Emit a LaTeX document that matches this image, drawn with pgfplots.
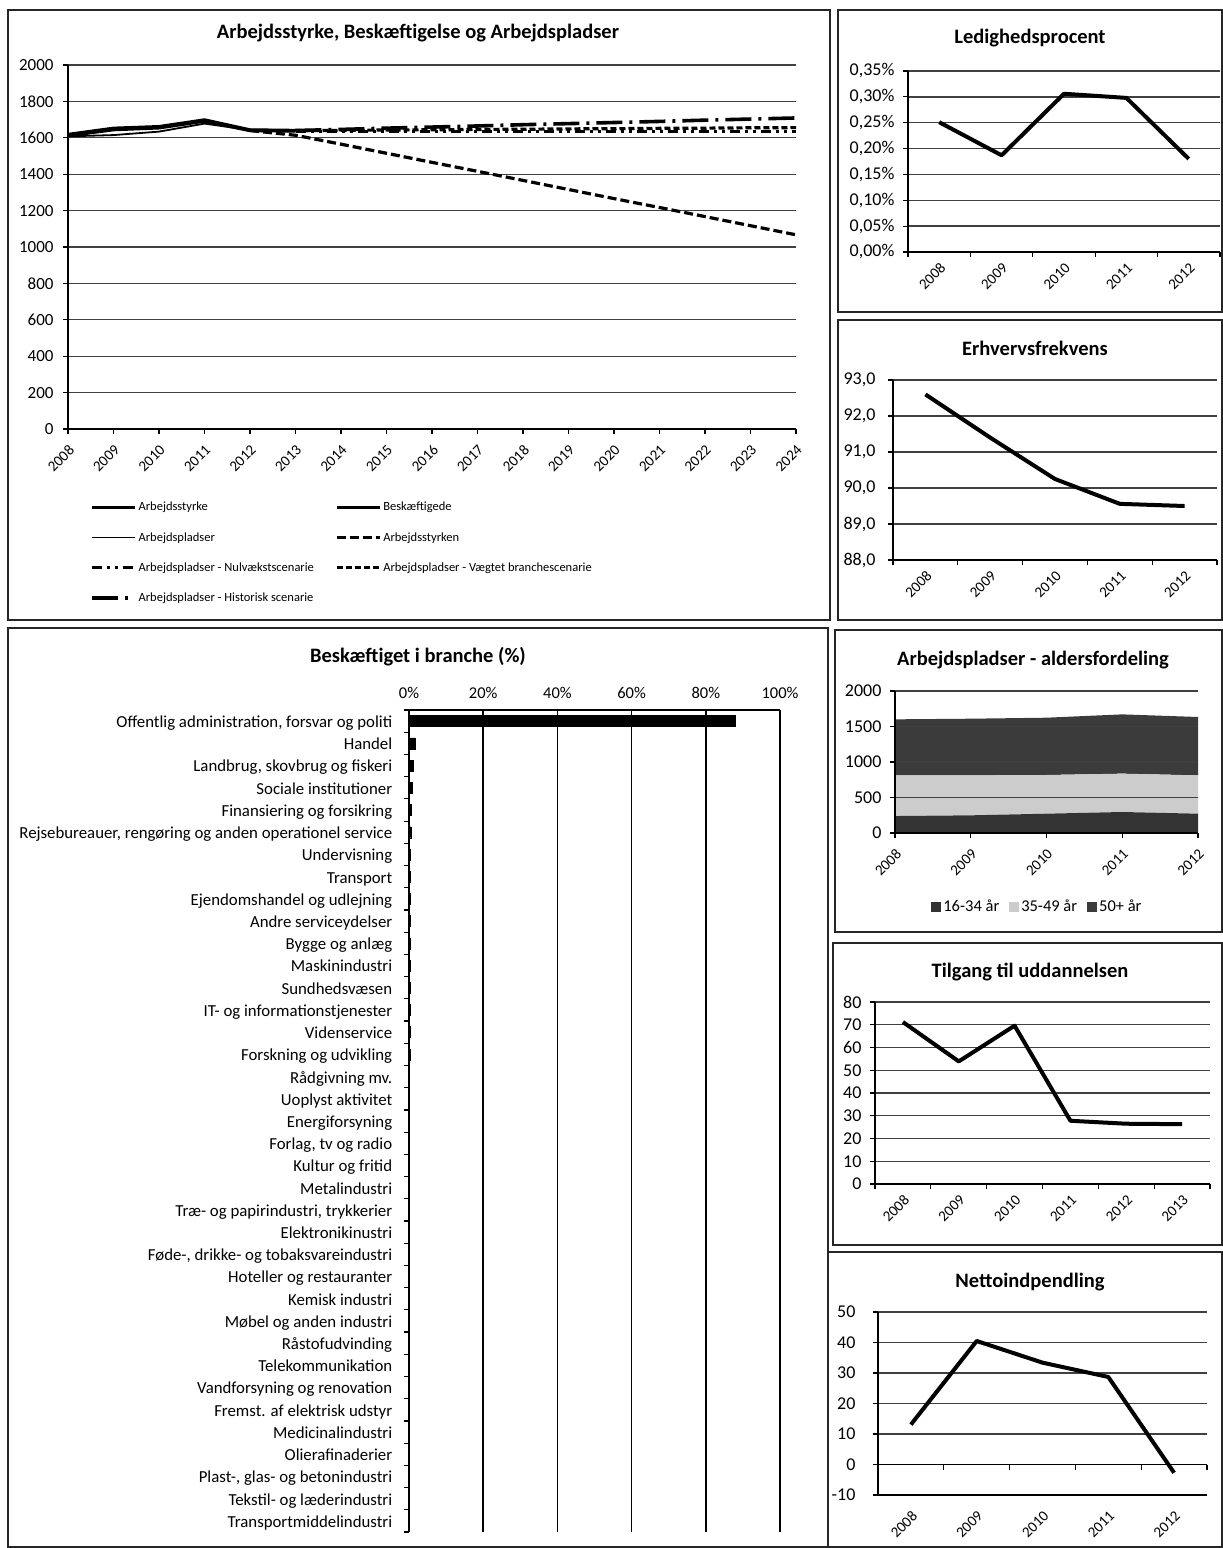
\documentclass[border=0pt]{standalone}
\usepackage{fontspec}
\setmainfont{Carlito}
\usepackage{pgfplots}
\pgfplotsset{compat=1.18}

\newcommand\fs[1]{\fontsize{#1}{#1}\selectfont}
\definecolor{gridc}{gray}{0.25}
\definecolor{darkA}{gray}{0.2}
\definecolor{darkB}{gray}{0.23}
\definecolor{lightA}{gray}{0.8}

\pgfplotsset{
  excel/.style={
    scale only axis,
    axis lines*=left,
    ymajorgrids,
    grid style={gridc, line width=1.3pt},
    axis line style={black, line width=1.4pt},
    tick style={black, line width=1.2pt},
    tick align=outside,
    major tick length=5pt,
    /pgf/number format/assume math mode=true,
    /pgf/number format/1000 sep={},
    yticklabel style={font=\fs{18}, xshift=-5pt},
    xticklabel style={yshift=-5pt, rotate=45, anchor=north east, font=\fs{15}},
    clip=false,
  },
  cat5/.style={
    xmin=-0.5, xmax=4.5,
    xtick={-0.5,0.5,1.5,2.5,3.5,4.5}, xticklabels={},
    extra x ticks={0,1,2,3,4},
    extra x tick labels={2008,2009,2010,2011,2012},
    extra x tick style={major tick length=0pt, tick style={draw=none}},
  },
  cat6/.style={
    xmin=-0.5, xmax=5.5,
    xtick={-0.5,0.5,1.5,2.5,3.5,4.5,5.5}, xticklabels={},
    extra x ticks={0,1,2,3,4,5},
    extra x tick labels={2008,2009,2010,2011,2012,2013},
    extra x tick style={major tick length=0pt, tick style={draw=none}},
  },
  thk/.style={black, line width=4pt, line join=round},
}

\begin{document}
\begin{tikzpicture}
\path[use as bounding box, fill=white] (0pt,0pt) rectangle (1223pt,-1548pt);

% panel frames
\begin{scope}[line width=1.6pt, black!85]
\draw (8pt,-10pt) rectangle (830pt,-620pt);
\draw (838pt,-10pt) rectangle (1222pt,-312pt);
\draw (838pt,-320pt) rectangle (1222pt,-620pt);
\draw (8pt,-628pt) rectangle (828pt,-1547pt);
\draw (835pt,-630pt) rectangle (1222pt,-932pt);
\draw (833pt,-943pt) rectangle (1222pt,-1245pt);
\draw (828pt,-1252pt) rectangle (1222pt,-1547pt);
\end{scope}

% titles
\begin{scope}[every node/.style={font=\bfseries\fs{20.5}}]
\node at (418pt,-33pt) {Arbejdsstyrke, Beskæftigelse og Arbejdspladser};
\node at (1030pt,-38pt) {Ledighedsprocent};
\node at (1035pt,-348pt) {Erhvervsfrekvens};
\node at (418pt,-657pt) {Beskæftiget i branche (\%)};
\node at (1033pt,-660pt) {Arbejdspladser - aldersfordeling};
\node at (1030pt,-972pt) {Tilgang til uddannelsen};
\node at (1030pt,-1282pt) {Nettoindpendling};
\end{scope}

% ---------- main chart
\begin{axis}[excel, at={(68pt,-429pt)}, anchor=south west, width=728pt, height=364pt,
  xmin=2008, xmax=2024, xtick={2008,...,2024},
  ymin=0, ymax=2000, ytick={0,200,...,2000},
  yticklabel style={font=\fs{17}, xshift=-1pt},
  legend columns=2,
  legend cell align=left,
  legend style={at={(0.03,-0.195)}, anchor=north west, draw=none, fill=none,
    font=\fs{12.5}, row sep=16pt, inner sep=0pt,
    /tikz/every even column/.append style={column sep=19pt}},
  legend image code/.code={\draw[#1] (0pt,0pt) -- (43pt,0pt);},
]
\addplot[black, line width=3.4pt] coordinates {(2008,1618) (2009,1652) (2010,1661) (2011,1698) (2012,1643) (2013,1640)};
\addlegendentry{Arbejdsstyrke}
\addplot[black, line width=3.4pt] coordinates {(2008,1612) (2009,1645) (2010,1655) (2011,1692) (2012,1640) (2013,1638)};
\addlegendentry{Beskæftigede}
\addplot[black, line width=1.8pt] coordinates {(2008,1608) (2009,1615) (2010,1634) (2011,1678) (2012,1643) (2013,1640)};
\addlegendentry{Arbejdspladser}
\addplot[black, line width=3.2pt, dash pattern=on 9pt off 4pt] coordinates {(2012,1640) (2013,1614) (2014,1565) (2015,1515) (2016,1465) (2017,1416) (2018,1366) (2019,1316) (2020,1266) (2021,1217) (2022,1167) (2023,1117) (2024,1067)};
\addlegendentry{Arbejdsstyrken}
\addplot[black, line width=2.8pt, dash pattern=on 10pt off 5pt on 3pt off 5pt on 3pt off 5pt] coordinates {(2013,1636) (2014,1636) (2015,1636) (2016,1636) (2017,1636) (2018,1636) (2019,1636) (2020,1636) (2021,1636) (2022,1636) (2023,1636) (2024,1636)};
\addlegendentry{Arbejdspladser - Nulvækstscenarie}
\addplot[black, line width=3.2pt, dash pattern=on 6pt off 3pt] coordinates {(2013,1640) (2014,1641) (2015,1643) (2016,1644) (2017,1646) (2018,1647) (2019,1649) (2020,1650) (2021,1652) (2022,1653) (2023,1655) (2024,1656)};
\addlegendentry{Arbejdspladser - Vægtet branchescenarie}
\addplot[black, line width=3.6pt, dash pattern=on 26pt off 7pt on 3pt off 7pt] coordinates {(2013,1640) (2014,1646) (2015,1653) (2016,1659) (2017,1665) (2018,1672) (2019,1678) (2020,1684) (2021,1690) (2022,1697) (2023,1703) (2024,1709)};
\addlegendentry{Arbejdspladser - Historisk scenarie}
\end{axis}

% ---------- Ledighedsprocent
\begin{axis}[excel, cat5, at={(908pt,-252pt)}, anchor=south west, width=312pt, height=181pt,
  ymin=0, ymax=0.35, ytick={0,0.05,0.1,0.15,0.2,0.25,0.3,0.35},
  yticklabels={{0,00\%},{0,05\%},{0,10\%},{0,15\%},{0,20\%},{0,25\%},{0,30\%},{0,35\%}},
]
\addplot[thk] coordinates {(0,0.251) (1,0.187) (2,0.306) (3,0.298) (4,0.180)};
\end{axis}

% ---------- Erhvervsfrekvens
\begin{axis}[excel, cat5, at={(893pt,-560pt)}, anchor=south west, width=324pt, height=180pt,
  ymin=88, ymax=93, ytick={88,...,93},
  yticklabels={{88,0},{89,0},{90,0},{91,0},{92,0},{93,0}},
  yticklabel style={xshift=-4pt},
]
\addplot[thk] coordinates {(0,92.6) (1,91.4) (2,90.25) (3,89.56) (4,89.5)};
\end{axis}

% ---------- Arbejdspladser - aldersfordeling
\begin{axis}[excel, at={(895pt,-833pt)}, anchor=south west, width=303pt, height=142pt,
  xmin=2008, xmax=2012, xtick={2008,...,2012},
  ymin=0, ymax=2000, ytick={0,500,...,2000},
  stack plots=y, area style,
  legend columns=3,
  legend style={at={(0.47,-0.52)}, anchor=center, draw=none, fill=none, font=\fs{16.5},
    /tikz/every even column/.append style={column sep=8pt}},
  legend image code/.code={\fill[#1] (0pt,-5pt) rectangle (10pt,5pt);},
]
\addplot[fill=darkA, draw=none] coordinates {(2008,239) (2009,249) (2010,272) (2011,296) (2012,272)} \closedcycle;
\addlegendentry{16-34 år}
\addplot[fill=lightA, draw=none] coordinates {(2008,573) (2009,563) (2010,545) (2011,540) (2012,540)} \closedcycle;
\addlegendentry{35-49 år}
\addplot[fill=darkB, draw=none] coordinates {(2008,789) (2009,798) (2010,807) (2011,835) (2012,822)} \closedcycle;
\addlegendentry{50+ år}
\end{axis}

% ---------- Tilgang til uddannelsen
\begin{axis}[excel, cat6, at={(875pt,-1184pt)}, anchor=south west, width=335pt, height=182pt,
  ymin=0, ymax=80, ytick={0,10,...,80},
]
\addplot[thk] coordinates {(0,71.2) (1,53.9) (2,69.6) (3,27.8) (4,26.5) (5,26.3)};
\end{axis}

% ---------- Nettoindpendling
\begin{axis}[excel, at={(878pt,-1495pt)}, anchor=south west, width=329pt, height=183pt,
  xmin=-0.5, xmax=4.5, xtick={0,...,4}, xticklabels={2008,2009,2010,2011,2012},
  x tick style={draw=none},
  ymin=-10, ymax=50, ytick={-10,0,...,50},
  yticklabel style={xshift=-9pt},
]
\draw[black, line width=1.4pt] (axis cs:-0.5,0) -- (axis cs:4.5,0);
\pgfplotsinvokeforeach{-0.5,0.5,1.5,2.5,3.5,4.5}{\draw[black, line width=1.2pt] (axis cs:#1,0) -- ++(0pt,-5pt);}
\addplot[thk] coordinates {(0,13.1) (1,40.5) (2,33.4) (3,28.7) (4,-2.7)};
\end{axis}

% ---------- Beskæftiget i branche
\begin{axis}[scale only axis, at={(409pt,-1532pt)}, anchor=south west, width=371pt, height=822pt,
  xbar, bar width=11pt,
  xmin=0, xmax=100, xtick={0,20,...,100},
  xticklabel={\pgfmathprintnumber{\tick}\%},
  /pgf/number format/assume math mode=true,
  ymin=-0.5, ymax=36.5, y dir=reverse,
  ytick={0,...,36},
  typeset ticklabels with strut,
  yticklabels={{Offentlig administration, forsvar og politi},Handel,{Landbrug, skovbrug og fiskeri},Sociale institutioner,Finansiering og forsikring,{Rejsebureauer, rengøring og anden operationel service},Undervisning,Transport,Ejendomshandel og udlejning,Andre serviceydelser,Bygge og anlæg,Maskinindustri,Sundhedsvæsen,IT- og informationstjenester,Videnservice,Forskning og udvikling,Rådgivning mv.,Uoplyst aktivitet,Energiforsyning,{Forlag, tv og radio},Kultur og fritid,Metalindustri,{Træ- og papirindustri, trykkerier},Elektronikinustri,{Føde-, drikke- og tobaksvareindustri},Hoteller og restauranter,Kemisk industri,Møbel og anden industri,Råstofudvinding,Telekommunikation,Vandforsyning og renovation,Fremst. af elektrisk udstyr,Medicinalindustri,Olierafinaderier,{Plast-, glas- og betonindustri},Tekstil- og læderindustri,Transportmiddelindustri},
  axis x line*=top, axis y line*=left,
  xmajorgrids, grid style={black, line width=1.4pt},
  axis line style={black, line width=1.4pt},
  tick style={black, line width=1.2pt},
  y tick style={draw=none},
  x tick style={draw=none},
  xticklabel style={font=\fs{16.5}, yshift=8pt},
  yticklabel style={font=\fs{16.8}, xshift=-9pt, yshift=-3pt},
  clip=false,
]
\pgfplotsinvokeforeach{-0.5,0.5,...,36.5}{\draw[black, line width=1.2pt] (axis cs:0,#1) -- ++(-5pt,0pt);}
\addplot[fill=black, draw=black] coordinates {(88,0) (1.6,1) (1.1,2) (0.9,3) (0.6,4) (0.6,5) (0.4,6) (0.4,7) (0.3,8) (0.3,9) (0.3,10) (0.2,11) (0.2,12) (0.2,13) (0.2,14) (0.2,15) (0.1,16) (0.1,17) (0.1,18) (0.1,19) (0.1,20) (0.1,21) (0.1,22) (0.1,23) (0.1,24) (0.1,25) (0.1,26) (0.1,27) (0.1,28) (0.05,29) (0.05,30) (0.05,31) (0.05,32) (0.05,33) (0.05,34) (0.05,35) (0.05,36)};
\end{axis}

\end{tikzpicture}
\end{document}
